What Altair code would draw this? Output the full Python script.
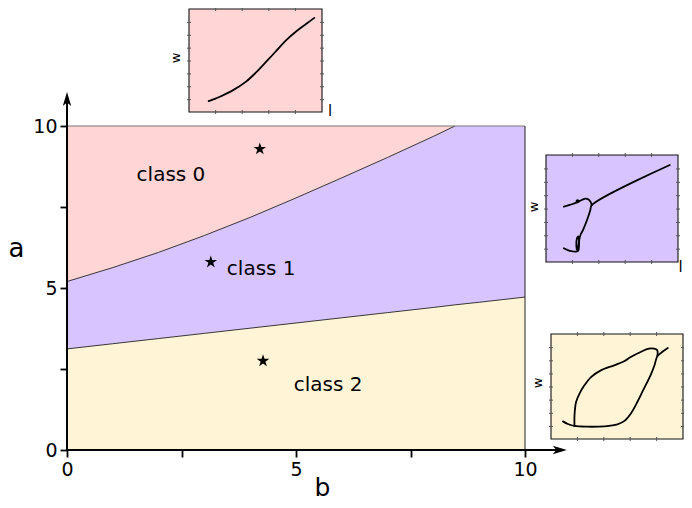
import altair as alt
import pandas as pd

# ---------------- main phase diagram data ----------------
B_GRID = [0, 1, 2, 3, 4, 5, 6, 7, 8, 8.47, 9, 10]
A_UPPER = [5.20, 5.63, 6.10, 6.62, 7.18, 7.78, 8.40, 9.03, 9.68, 10.0, 10.0, 10.0]
A_LOWER = [3.12, 3.28, 3.44, 3.60, 3.76, 3.92, 4.08, 4.24, 4.40, 4.48, 4.56, 4.72]
B_CURVE_END = 8.47

CLASS_NAMES = ["class 0", "class 1", "class 2"]
CLASS_COLORS = ["#ffd5d5", "#d8c4fe", "#fff5d6"]
STAR_B = [4.21, 3.14, 4.28]
STAR_A = [9.29, 5.80, 2.75]
LABEL_B = [2.27, 4.24, 5.70]
LABEL_A = [8.49, 5.59, 2.00]

AXIS_TICKS = [0, 2.5, 5, 7.5, 10]

# ---------------- inset curves (l, w in 0..10 units) ----------------
INSET_L_TICKS = [2, 4, 6, 8]
INSET_W_TICKS = [1.2, 2.45, 3.7, 4.95, 6.2, 7.45, 8.7]

IN1_L = [1.48, 2.28, 3.29, 4.29, 5.04, 5.79, 6.54, 7.29, 8.05, 8.80, 9.42]
IN1_W = [1.05, 1.46, 2.10, 2.95, 3.84, 4.86, 5.90, 6.95, 7.81, 8.54, 9.14]

IN2A_L = [9.38, 3.46, 3.36, 3.11, 2.80, 2.62, 2.52, 2.50, 2.45, 2.36, 2.30, 2.36, 2.45, 2.50, 2.44, 2.36, 1.80, 1.35]
IN2A_W = [9.07, 5.30, 4.86, 3.93, 2.99, 2.55, 2.10, 1.50, 1.05, 1.10, 1.60, 2.25, 2.40, 2.00, 1.40, 1.00, 1.05, 1.28]
IN2B_L = [1.35, 1.80, 2.15, 2.35, 2.48, 2.45, 2.32, 2.33, 2.50, 2.75, 2.98, 3.20, 3.38, 3.46]
IN2B_W = [5.17, 5.33, 5.48, 5.56, 5.62, 5.75, 5.72, 5.60, 5.66, 5.82, 5.93, 5.87, 5.62, 5.30]

IN3A_L = [8.85, 8.42, 8.05, 7.84, 7.54, 7.04, 6.54, 6.04, 5.59, 5.04, 4.04, 2.78, 1.78, 1.28, 0.90]
IN3A_W = [8.67, 8.29, 7.87, 7.02, 6.06, 4.79, 3.52, 2.41, 1.75, 1.40, 1.21, 1.17, 1.24, 1.43, 1.68]
IN3B_L = [1.78, 1.78, 1.90, 2.16, 2.53, 3.03, 3.78, 4.79, 5.54, 6.04, 6.79, 7.42, 7.80, 8.05, 8.05]
IN3B_W = [1.24, 2.25, 3.52, 4.32, 5.11, 5.90, 6.54, 7.02, 7.40, 7.81, 8.29, 8.60, 8.60, 8.45, 7.87]

FONT = "DejaVu Sans"
ONE = pd.DataFrame({"k": [0]})

STAR_SHAPE = ("M0,-1L0.2245,-0.309L0.951,-0.309L0.363,0.118L0.588,0.809L0,0.382"
              "L-0.588,0.809L-0.363,0.118L-0.951,-0.309L-0.2245,-0.309Z")
RIGHT_ARROW = "M1,0L-1,-0.6L-0.5,0L-1,0.6Z"
UP_ARROW = "M0,-1L-0.6,1L0,0.5L0.6,1Z"

# ---------------- main chart ----------------
sx = alt.Scale(domain=[0, 10], range=[0, 458], nice=False, zero=False)
sy = alt.Scale(domain=[0, 10], range=[442, 118], nice=False, zero=False)
lab_expr = "datum.value % 5 === 0 ? datum.label : ''"
x_axis = alt.Axis(orient="bottom", values=AXIS_TICKS, labelExpr=lab_expr, domain=False, grid=False,
                  tickSize=7, tickWidth=1.8, tickColor="black", labelFontSize=19,
                  labelColor="black", labelPadding=3, labelFlush=False, labelOverlap=False,
                  labelFont=FONT, title="b", titleFont=FONT, titleFontSize=25,
                  titleFontWeight="normal", titleColor="black", titleX=255, titleY=37,
                  titleAlign="center", titleBaseline="middle")
y_axis = alt.Axis(orient="left", values=AXIS_TICKS, labelExpr=lab_expr, domain=False, grid=False,
                  tickSize=7, tickWidth=1.8, tickColor="black", labelFontSize=19,
                  labelColor="black", labelPadding=3, labelFlush=False, labelOverlap=False,
                  labelFont=FONT, title="a", titleFont=FONT, titleFontSize=26,
                  titleFontWeight="normal", titleColor="black", titleAngle=0,
                  titleX=-51, titleY=240, titleAlign="center", titleBaseline="middle")


def MX(f):
    return alt.X(f, type="quantitative", scale=sx, axis=x_axis)


def MY(f):
    return alt.Y(f, type="quantitative", scale=sy, axis=y_axis)


def MXd(v):
    return alt.X(datum=v, scale=sx, axis=x_axis)


def MYd(v):
    return alt.Y(datum=v, scale=sy, axis=y_axis)


reg = pd.DataFrame({"b": B_GRID, "upper": A_UPPER, "lower": A_LOWER})

area2 = alt.Chart(reg).mark_area(color=CLASS_COLORS[2], opacity=1).encode(
    x=MX("b"), y=MY("lower"), y2=alt.Y2(datum=0))
area1 = alt.Chart(reg).mark_area(color=CLASS_COLORS[1], opacity=1).encode(
    x=MX("b"), y=MY("lower"), y2=alt.Y2("upper"))
area0 = alt.Chart(reg).mark_area(color=CLASS_COLORS[0], opacity=1).encode(
    x=MX("b"), y=MY("upper"), y2=alt.Y2(datum=10))

upper_line = alt.Chart(reg).transform_filter(alt.datum.b <= B_CURVE_END).mark_line(
    color="#222", strokeWidth=0.9).encode(x=MX("b"), y=MY("upper"))
lower_line = alt.Chart(reg).mark_line(color="#222", strokeWidth=0.9).encode(
    x=MX("b"), y=MY("lower"))
top_border = alt.Chart(ONE).mark_rule(color="#777", strokeWidth=1).encode(
    x=MXd(0), x2=alt.X2(datum=10), y=MYd(10))
right_border = alt.Chart(ONE).mark_rule(color="#222", strokeWidth=1).encode(
    x=MXd(10), y=MYd(0), y2=alt.Y2(datum=10))

x_line = alt.Chart(ONE).mark_rule(color="black", strokeWidth=2).encode(
    x=MXd(0), x2=alt.X2(datum=10.7), y=MYd(0))
y_line = alt.Chart(ONE).mark_rule(color="black", strokeWidth=2).encode(
    x=MXd(0), y=MYd(0), y2=alt.Y2(datum=10.75))
x_arrow = alt.Chart(ONE).mark_point(shape=RIGHT_ARROW, filled=True, size=196,
                                    color="black", opacity=1).encode(x=MXd(10.76), y=MYd(0))
y_arrow = alt.Chart(ONE).mark_point(shape=UP_ARROW, filled=True, size=196,
                                    color="black", opacity=1).encode(x=MXd(0), y=MYd(10.83))

stars = alt.Chart(pd.DataFrame({"b": STAR_B, "a": STAR_A})).mark_point(
    shape=STAR_SHAPE, filled=True, size=175, color="black", opacity=1).encode(
    x=MX("b"), y=MY("a"))
labels = alt.Chart(pd.DataFrame({"b": LABEL_B, "a": LABEL_A, "name": CLASS_NAMES})).mark_text(
    font=FONT, fontSize=20, color="black", align="center", baseline="middle").encode(
    x=MX("b"), y=MY("a"), text="name:N")

main = alt.layer(area2, area1, area0, upper_line, lower_line, top_border, right_border,
                 x_line, y_line, x_arrow, y_arrow, stars, labels)


# ---------------- insets ----------------
def make_inset(segments, color, xr, yr, w_pos, l_pos=None):
    sxi = alt.Scale(domain=[0, 10], range=xr, nice=False, zero=False)
    syi = alt.Scale(domain=[0, 10], range=yr, nice=False, zero=False)

    def IX(f):
        return alt.X(f, type="quantitative", scale=sxi, axis=None)

    def IY(f):
        return alt.Y(f, type="quantitative", scale=syi, axis=None)

    def IXd(v):
        return alt.X(datum=v, scale=sxi, axis=None)

    def IYd(v):
        return alt.Y(datum=v, scale=syi, axis=None)

    frame = alt.Chart(ONE).mark_rect(fill=color, stroke="#111", strokeWidth=1.1).encode(
        x=IXd(0), x2=alt.X2(datum=10), y=IYd(0), y2=alt.Y2(datum=10))
    lt = pd.DataFrame({"l": INSET_L_TICKS})
    wt = pd.DataFrame({"w": INSET_W_TICKS})
    tick_style = dict(size=4, thickness=1, color="#555", opacity=1)
    t_bottom = alt.Chart(lt).mark_tick(orient="vertical", **tick_style).encode(x=IX("l"), y=IYd(0))
    t_top = alt.Chart(lt).mark_tick(orient="vertical", **tick_style).encode(x=IX("l"), y=IYd(10))
    t_left = alt.Chart(wt).mark_tick(orient="horizontal", **tick_style).encode(x=IXd(0), y=IY("w"))
    t_right = alt.Chart(wt).mark_tick(orient="horizontal", **tick_style).encode(x=IXd(10), y=IY("w"))

    rows = []
    for si, (ls, ws) in enumerate(segments):
        for i, (l, w) in enumerate(zip(ls, ws)):
            rows.append({"seg": si, "i": i, "l": l, "w": w})
    curve = alt.Chart(pd.DataFrame(rows)).mark_line(
        color="black", strokeWidth=1.8, strokeJoin="round", strokeCap="round",
        interpolate="catmull-rom").encode(
        x=IX("l"), y=IY("w"), detail="seg:N", order="i:Q")

    w_lab = alt.Chart(ONE).mark_text(text="w", angle=270, font=FONT, fontSize=13,
                                     color="black", align="center", baseline="middle").encode(
        x=IXd(w_pos[0]), y=IYd(w_pos[1]))
    layers = [frame, t_bottom, t_top, t_left, t_right, curve, w_lab]
    if l_pos is not None:
        l_lab = alt.Chart(ONE).mark_text(text="l", font=FONT, fontSize=15, color="black",
                                         align="center", baseline="middle").encode(
            x=IXd(l_pos[0]), y=IYd(l_pos[1]))
        layers.append(l_lab)
    return alt.layer(*layers)


inset1 = make_inset([(IN1_L, IN1_W)], CLASS_COLORS[0], [122, 255], [104, 1],
                    (-0.98, 5.24), (10.6, 0.1))
inset2 = make_inset([(IN2A_L, IN2A_W), (IN2B_L, IN2B_W)], CLASS_COLORS[1], [479, 611], [254, 147],
                    (-0.9, 5.14), (10.2, -0.47))
inset3 = make_inset([(IN3A_L, IN3A_W), (IN3B_L, IN3B_W)], CLASS_COLORS[2], [484, 616], [431, 326],
                    (-0.98, 5.33))

chart = alt.layer(main, inset1, inset2, inset3).resolve_scale(
    x="independent", y="independent"
).properties(
    width=617, height=442,
    autosize=alt.AutoSizeParams(type="none"),
    padding={"left": 59, "top": 0, "right": 0, "bottom": 50},
    background="white",
).configure(font=FONT).configure_view(strokeWidth=0)

chart.save("out.html", embed_options={"renderer": "svg", "actions": False})
